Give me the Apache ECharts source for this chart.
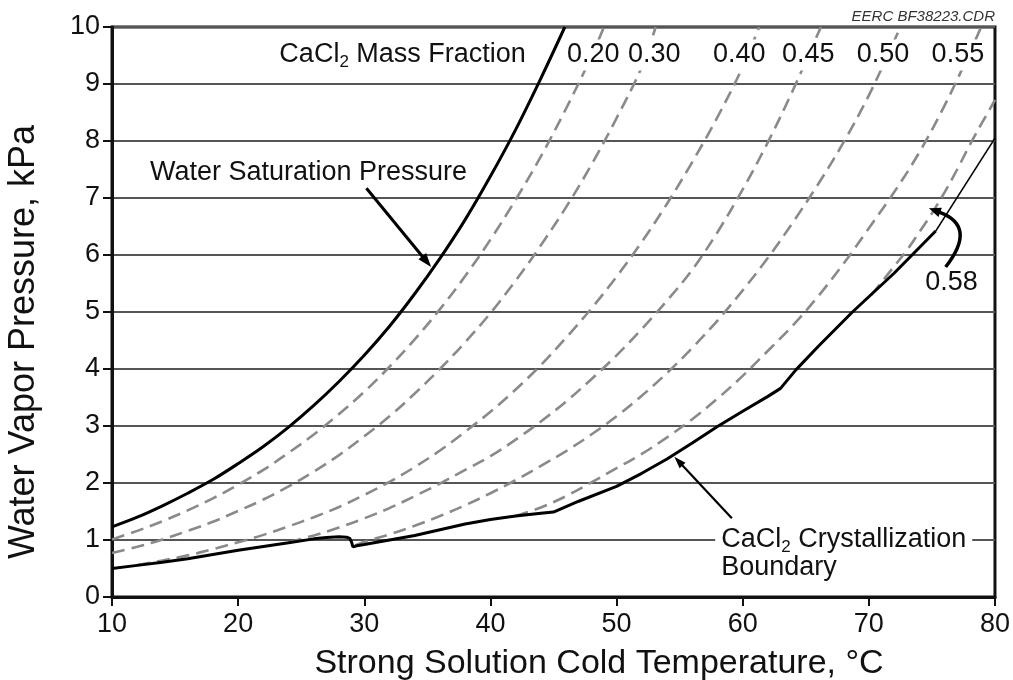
<!DOCTYPE html>
<html>
<head>
<meta charset="utf-8">
<script src="https://cdn.jsdelivr.net/npm/echarts@6/dist/echarts.min.js"></script>
<style>
html,body{margin:0;padding:0;background:#fff;}
#c{width:1013px;height:680px;}
</style>
</head>
<body>
<div id="c"></div>
<script>
// ---------- data ----------
const xTicks = [10, 20, 30, 40, 50, 60, 70, 80];
const yTicks = [0, 1, 2, 3, 4, 5, 6, 7, 8, 9, 10];

const water = [[10,1.23],[12,1.40],[14,1.60],[16,1.82],[18,2.06],[20,2.34],[22,2.64],[24,2.98],[26,3.36],[28,3.78],[30,4.24],[32,4.75],[34,5.32],[36,5.94],[38,6.62],[40,7.38],[42,8.20],[44,9.10],[45.9,10.0]];

const frac20 = [[10,1.01],[12,1.16],[14,1.33],[16,1.52],[18,1.73],[20,1.97],[22,2.23],[24,2.53],[26,2.85],[28,3.21],[30,3.60],[32,4.04],[34,4.52],[36,5.05],[38,5.63],[40,6.27],[42,6.97],[44,7.73],[46,8.57],[48,9.48],[49,10.0]];
const frac30 = [[10,0.77],[12,0.88],[14,1.01],[16,1.16],[18,1.32],[20,1.51],[22,1.71],[24,1.94],[26,2.20],[28,2.49],[30,2.82],[32,3.17],[34,3.57],[36,4.00],[38,4.47],[40,4.98],[42,5.55],[44,6.17],[46,6.84],[48,7.58],[50,8.40],[52,9.30],[53.1,10.0]];
const frac40 = [[12,0.56],[14,0.64],[16,0.73],[18,0.84],[20,0.96],[22,1.09],[24,1.24],[26,1.40],[28,1.58],[30,1.79],[32,2.02],[34,2.28],[36,2.57],[38,2.90],[40,3.25],[42,3.64],[44,4.07],[46,4.55],[48,5.06],[50,5.62],[52,6.23],[54,6.90],[56,7.63],[58,8.42],[60,9.30],[61.3,10.0]];
const frac45 = [[24,0.96],[26,1.08],[28,1.22],[30,1.38],[32,1.56],[34,1.77],[36,1.99],[38,2.23],[40,2.47],[42,2.76],[44,3.08],[46,3.43],[48,3.82],[50,4.24],[52,4.70],[54,5.20],[56,5.74],[58,6.40],[60,7.15],[62,7.98],[64,8.90],[66,9.90],[66.2,10.0]];
const frac50 = [[29.3,0.91],[30,0.97],[32,1.10],[34,1.25],[36,1.42],[38,1.61],[40,1.82],[42,2.05],[44,2.30],[46,2.56],[48,2.85],[50,3.17],[52,3.53],[54,3.93],[56,4.37],[58,4.85],[60,5.38],[62,5.95],[64,6.58],[66,7.25],[68,7.98],[70,8.80],[72,9.75],[72.5,10.0]];
const frac55 = [[42,1.42],[44,1.57],[46,1.77],[48,2.01],[50,2.26],[52,2.51],[54,2.80],[56,3.12],[58,3.48],[60,3.88],[62,4.32],[64,4.77],[66,5.28],[68,5.85],[70,6.47],[72,7.10],[74,7.80],[76,8.62],[78,9.55],[78.9,10.0]];
const frac58 = [[70.2,5.30],[71,5.52],[72,5.80],[73,6.08],[74,6.40],[75,6.73],[76,7.10],[77,7.50],[78,7.93],[79,8.33],[80,8.72]];

const boundary = [[10,0.50],[12,0.555],[14,0.61],[16,0.67],[18,0.745],[20,0.82],[22,0.885],[24,0.95],[26,1.02],[27,1.045],[28,1.055],[28.6,1.05],[28.85,1.03],[29.0,0.96],[29.1,0.88],[29.4,0.90],[30,0.92],[32,1.00],[34,1.08],[36,1.18],[38,1.28],[40,1.36],[42,1.42],[44,1.47],[45,1.49],[47,1.68],[50,1.94],[52,2.17],[54,2.42],[56,2.70],[58,2.99],[60,3.26],[62,3.52],[63,3.66],[64.2,3.98],[66,4.40],[68.7,5.00],[72,5.68],[75.3,6.42]];
const boundaryExt = [[75.3,6.42],[80,8.05]];

const fractionNames = ['0.20','0.30','0.40','0.45','0.50','0.55'];
const fractionLast = '0.58';

// ---------- layout / style ----------
const FONT = '"Liberation Sans", Arial, Helvetica, sans-serif';
const fracLabelT = [48.16, 52.99, 59.72, 65.19, 71.12, 77.06];
const fracLabelP = 9.51;

const chart = echarts.init(document.getElementById('c'), null, {renderer: 'canvas'});

const dashStyle = {color: '#8a8a8a', width: 2.6, type: [13, 7]};
function dashed(name, data) {
  return {type: 'line', name, data, symbol: 'none', showSymbol: false, smooth: 0.35,
    lineStyle: dashStyle, silent: true, z: 2};
}

const option = {
  animation: false,
  backgroundColor: '#fff',
  grid: {left: 112, right: 17, top: 27, bottom: 83, show: true, borderColor: '#111', borderWidth: 3, backgroundColor: 'transparent'},
  xAxis: {
    type: 'value', min: xTicks[0], max: xTicks[xTicks.length - 1], interval: xTicks[1] - xTicks[0],
    axisLine: {show: true, onZero: false, lineStyle: {color: '#111', width: 3}},
    axisTick: {show: true, length: 9, lineStyle: {color: '#111', width: 2}},
    axisLabel: {color: '#111', fontSize: 27, fontFamily: FONT, margin: 14, showMinLabel: true, showMaxLabel: true},
    splitLine: {show: false}
  },
  yAxis: {
    type: 'value', min: yTicks[0], max: yTicks[yTicks.length - 1], interval: yTicks[1] - yTicks[0],
    axisLine: {show: true, onZero: false, lineStyle: {color: '#111', width: 3}},
    axisTick: {show: true, length: 9, lineStyle: {color: '#111', width: 2}},
    axisLabel: {color: '#111', fontSize: 27, fontFamily: FONT, margin: 12},
    splitLine: {show: true, lineStyle: {color: '#555', width: 2}}
  },
  series: [
    dashed('0.20', frac20),
    dashed('0.30', frac30),
    dashed('0.40', frac40),
    dashed('0.45', frac45),
    dashed('0.50', frac50),
    dashed('0.55', frac55),
    dashed('0.58', frac58),
    {type: 'line', name: 'water', data: water, symbol: 'none', smooth: 0.35,
      lineStyle: {color: '#000', width: 3}, silent: true, z: 3},
    {type: 'line', name: 'boundaryExt', data: boundaryExt, symbol: 'none',
      lineStyle: {color: '#000', width: 1.6}, silent: true, z: 3},
    {type: 'line', name: 'boundary', data: boundary, symbol: 'none', smooth: false,
      lineStyle: {color: '#000', width: 3}, silent: true, z: 3}
  ]
};
chart.setOption(option);

// ---------- annotations (positions given in data units, converted through the axes) ----------
function px(t, p) { return chart.convertToPixel({gridIndex: 0}, [t, p]); }
const g = [];
function txt(pos, text, extra) {
  g.push({type: 'text', x: pos[0], y: pos[1], z: 50, silent: true,
    style: Object.assign({text, fontSize: 27, fontFamily: FONT, fill: '#111', align: 'center', verticalAlign: 'middle'}, extra || {})});
}
function head(tip, dx, dy, len, wid) {
  const n = Math.hypot(dx, dy), ux = dx / n, uy = dy / n;
  const bx = tip[0] - ux * len, by = tip[1] - uy * len;
  g.push({type: 'polygon', z: 51, silent: true,
    shape: {points: [tip, [bx - uy * wid / 2, by + ux * wid / 2], [bx + uy * wid / 2, by - ux * wid / 2]]},
    style: {fill: '#000'}});
  return [bx + ux * 1, by + uy * 1];
}
function arrow(from, to, width, len, wid) {
  const a = px(from[0], from[1]), b = px(to[0], to[1]);
  const end = head(b, b[0] - a[0], b[1] - a[1], len, wid);
  g.push({type: 'line', z: 51, silent: true, shape: {x1: a[0], y1: a[1], x2: end[0], y2: end[1]},
    style: {stroke: '#000', lineWidth: width}});
}
function curvedArrow(from, to, bend, width, len, wid) {
  const a = px(from[0], from[1]), b = px(to[0], to[1]);
  const mx = (a[0] + b[0]) / 2, my = (a[1] + b[1]) / 2;
  const dx = b[0] - a[0], dy = b[1] - a[1], n = Math.hypot(dx, dy);
  const cp = [mx + (-dy / n) * bend, my + (dx / n) * bend];
  const end = head(b, b[0] - cp[0], b[1] - cp[1], len, wid);
  g.push({type: 'bezierCurve', z: 51, silent: true,
    shape: {x1: a[0], y1: a[1], cpx1: cp[0], cpy1: cp[1], x2: end[0], y2: end[1]},
    style: {stroke: '#000', lineWidth: width, fill: 'none'}});
}

// "CaCl2 Mass Fraction"
txt(px(33.04, 9.51), 'CaCl{s|2} Mass Fraction', {lineHeight: 32, rich: {s: {fontSize: 17, fontFamily: FONT, fill: '#111', verticalAlign: 'bottom', lineHeight: 32}}});
fractionNames.forEach((n, i) => {
  txt(px(fracLabelT[i], fracLabelP), n, {backgroundColor: '#fff', padding: [2, 2]});
});
txt(px(76.55, 5.51), fractionLast);
txt(px(13.01, 7.44), 'Water Saturation Pressure', {align: 'left'});
txt(px(57.82, 1.0), 'CaCl{s|2} Crystallization', {align: 'left', backgroundColor: '#fff', padding: [2, 6], lineHeight: 32,
  rich: {s: {fontSize: 17, fontFamily: FONT, fill: '#111', verticalAlign: 'bottom', lineHeight: 32}}});
txt(px(58.3, 0.51), 'Boundary', {align: 'left'});

// arrows
arrow([30.17, 7.17], [35.3, 5.79], 3, 14, 10);
arrow([59.14, 1.38], [54.58, 2.46], 2.2, 12, 8);
curvedArrow([76.09, 5.79], [74.76, 6.82], 42, 3.5, 12, 10);

// axis titles and file note
g.push({type: 'text', x: 599, y: 664, z: 50, silent: true,
  style: {text: 'Strong Solution Cold Temperature, °C', fontSize: 34, fontFamily: FONT, fill: '#111', align: 'center', verticalAlign: 'middle'}});
g.push({type: 'text', x: 24, y: 342, rotation: Math.PI / 2, z: 50, silent: true,
  style: {text: 'Water Vapor Pressure, kPa', fontSize: 36, fontFamily: FONT, fill: '#111', align: 'center', verticalAlign: 'middle'}});
g.push({type: 'text', x: 995, y: 17, z: 50, silent: true,
  style: {text: 'EERC BF38223.CDR', fontSize: 15, fontStyle: 'italic', fontFamily: FONT, fill: '#333', align: 'right', verticalAlign: 'middle'}});

chart.setOption({graphic: g});
</script>
</body>
</html>
